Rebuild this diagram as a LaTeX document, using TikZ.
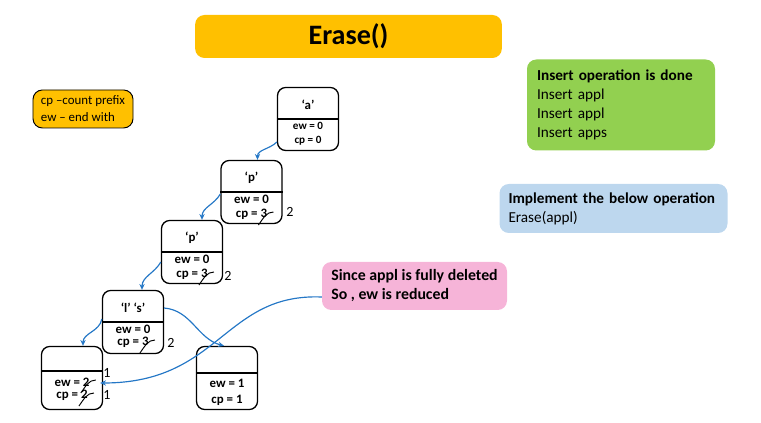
\documentclass[tikz,border=0pt]{standalone}
\usepackage{fontspec}
\setmainfont{Carlito}
\usetikzlibrary{positioning,calc,arrows.meta}
\definecolor{titleorange}{RGB}{255,192,0}
\definecolor{notegreen}{RGB}{146,208,80}
\definecolor{noteblue}{RGB}{189,215,238}
\definecolor{notepink}{RGB}{246,180,216}
\definecolor{linkblue}{RGB}{36,119,198}
\tikzset{
	trie/.style={draw, line width=1.1pt, rounded corners=7pt, minimum width=1.83cm, minimum height=1.89cm, inner sep=0pt},
	field/.style={font=\fontsize{11}{12}\selectfont\bfseries, inner sep=1pt},
	letter/.style={font=\fontsize{11}{12}\selectfont\bfseries, inner sep=1pt},
	newval/.style={font=\fontsize{12}{13}\selectfont, inner sep=1pt},
	link/.style={draw=linkblue, line width=1pt, -{Stealth[length=5pt,width=4.5pt]}},
	note/.style={rounded corners=8pt, align=left, inner ysep=0pt},
	strike/.pic={\draw[line width=0.8pt] (-7,-9) .. controls (-2,-2) and (1,4) .. (8,4);}
}

\begin{document}
\begin{tikzpicture}[x=0.03cm, y=0.03cm]
	\useasboundingbox (0,0) rectangle (761,423);

	\node[note, fill=titleorange, minimum width=9.2cm, minimum height=1.29cm, align=center, font=\fontsize{24}{28}\selectfont\bfseries] (title) at (348.5,386.5) {Erase()};
	\node[note, draw, line width=0.8pt, fill=titleorange, minimum width=3cm, minimum height=1.14cm, font=\fontsize{11}{14.5}\selectfont] (legend) at (83,314) {cp –count prefix\\ew – end with};
	\node[note, fill=notegreen, inner xsep=0.3cm, text width=5.04cm, minimum height=2.73cm, font=\fontsize{13}{16.2}\selectfont] (done) at (621,318) {\textbf{Insert operation is done}\\Insert appl\\Insert appl\\Insert apps};
	\node[note, fill=noteblue, inner xsep=0.27cm, text width=6.3cm, minimum height=1.47cm, font=\fontsize{13}{16.2}\selectfont] (task) at (613.5,214.5) {\textbf{Implement the below operation}\\Erase(appl)};
	\node[note, fill=notepink, minimum width=5.55cm, minimum height=1.44cm, font=\fontsize{13.5}{16.2}\selectfont\bfseries] (reason) at (414.5,137) {Since appl is fully deleted\\So , ew is reduced};

	\node[trie] (na) at (308,304) {};
	\draw[line width=1.1pt] (na.west) -- (na.east);
	\node[letter] (nalbl) at (308,318) {`a'};
	\node[field, font=\fontsize{9.5}{10}\selectfont\bfseries] (naew) at (308,297) {ew = 0};
	\node[field, font=\fontsize{9.5}{10}\selectfont\bfseries] (nacp) at (308,282) {cp = 0};

	\node[trie] (np1) at (251.5,231) {};
	\draw[line width=1.1pt] (np1.west) -- (np1.east);
	\node[letter] (np1lbl) at (251.5,245) {`p'};
	\node[field] (np1ew) at (251.5,224) {ew = 0};
	\node[field] (np1cp) at (251.5,209) {cp = 3};
	\node[newval] (np1new) at (290,211) {2};

	\node[trie] (np2) at (192,171) {};
	\draw[line width=1.1pt] (np2.west) -- (np2.east);
	\node[letter] (np2lbl) at (192,185) {`p'};
	\node[field] (np2ew) at (192,164) {ew = 0};
	\node[field] (np2cp) at (192,149) {cp = 3};
	\node[newval] (np2new) at (228,147) {2};

	\node[trie] (nls) at (133,101) {};
	\draw[line width=1.1pt] (nls.west) -- (nls.east);
	\node[letter] (nlslbl) at (133,115) {`l' `s'};
	\node[field] (nlsew) at (133,94) {ew = 0};
	\node[field] (nlscp) at (133,81) {cp = 3};
	\node[newval] (nlsnew) at (171,80) {2};

	\node[trie] (nl) at (72,45) {};
	\draw[line width=1.1pt] ($(nl.west)+(0,7)$) -- ($(nl.east)+(0,7)$);
	\node[field] (nlew) at (72,41) {ew = 2};
	\node[field] (nlcp) at (72,28) {cp = 2};
	\node[newval] (nlewnew) at (107,50) {1};
	\node[newval] (nlcpnew) at (107,28) {1};

	\node[trie] (nr) at (227,45) {};
	\draw[line width=1.1pt] ($(nr.west)+(0,5)$) -- ($(nr.east)+(0,5)$);
	\node[field] (nrew) at (227,40) {ew = 1};
	\node[field] (nrcp) at (227,23) {cp = 1};

	\pic at ($(np1cp.east)+(-3,-2)$) {strike};
	\pic at ($(np2cp.east)+(-3,-2)$) {strike};
	\pic at ($(nlscp.east)+(-3,-2)$) {strike};
	\pic at ($(nlew.east)+(-3,-2)$) {strike};
	\pic at ($(nlcp.east)+(-3,-2)$) {strike};

	\draw[link] ($(na.west)+(0,-23)$) to[out=225, in=90] ($(np1.north)+(6,0)$);
	\draw[link] ($(np1.west)+(0,-2)$) to[out=240, in=90] ($(np2.north)+(10,0)$);
	\draw[link] ($(np2.west)+(0,-10)$) to[out=240, in=90] ($(nls.north)+(9,0)$);
	\draw[link] ($(nls.west)+(0,3)$) to[out=-100, in=90] ($(nl.north)+(11,0)$);
	\draw[link] ($(nls.east)+(0,14)$) to[out=-5, in=165] ($(nr.north)+(-3,0)$);
	\draw[link] ($(reason.west)+(0,-11)$) .. controls +(-98,4) and +(120,0) .. ($(nl.east)+(-3,-5)$);
\end{tikzpicture}
\end{document}
